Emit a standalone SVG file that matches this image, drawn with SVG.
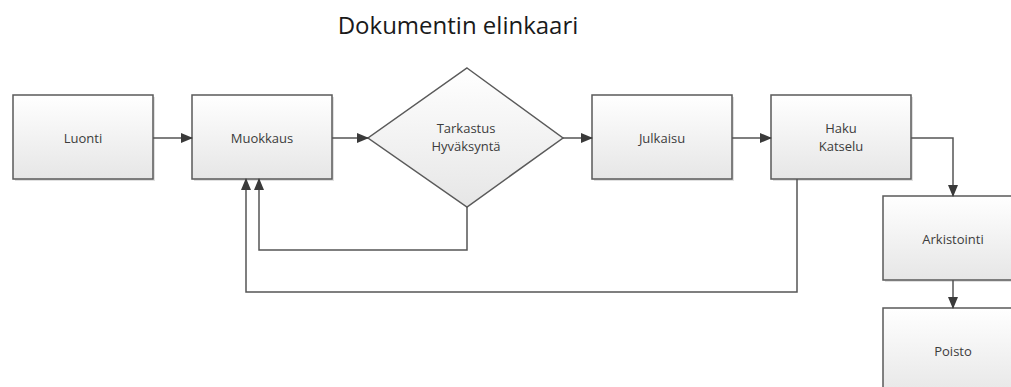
<svg xmlns="http://www.w3.org/2000/svg" width="1011" height="387" viewBox="0 0 1011 387">
<style>
.box{fill:url(#g);stroke:#5a5a5a;stroke-width:1.5}
.sh{fill:#e0e0e0}
.lbl{font-family:"Open Sans","Liberation Sans",sans-serif;font-size:13px;fill:#3c3c3c;text-anchor:middle;dominant-baseline:central}
.title{font-family:"Open Sans","Liberation Sans",sans-serif;font-size:24px;fill:#1a1a1a;text-anchor:middle}
.c{fill:none;stroke:#555;stroke-width:1.5}
</style>
<defs>
<linearGradient id="g" x1="0" y1="0" x2="0" y2="1">
<stop offset="0" stop-color="#ffffff"/>
<stop offset="1" stop-color="#e6e6e6"/>
</linearGradient>
<marker id="a" markerWidth="12" markerHeight="10" refX="11" refY="5" orient="auto" markerUnits="userSpaceOnUse">
<path d="M0,0 L12,5 L0,10 Z" fill="#3a3a3a"/>
</marker>
</defs>
<rect width="1011" height="387" fill="#fff"/>
<text class="title" x="458" y="34">Dokumentin elinkaari</text>
<g id="luonti">
<rect class="sh" x="15" y="97" width="140" height="84"/>
<rect class="box" x="13" y="95" width="140" height="84"/>
<text class="lbl" x="83" y="138">Luonti</text>
</g>
<g id="muokkaus">
<rect class="sh" x="194" y="97" width="140" height="84"/>
<rect class="box" x="192" y="95" width="140" height="84"/>
<text class="lbl" x="262" y="138">Muokkaus</text>
</g>
<g id="tarkastus">
<path class="box" d="M467,68 L563,138 L467,207 L368,138 Z"/>
<text class="lbl" x="466" y="128">Tarkastus</text>
<text class="lbl" x="466" y="146">Hyväksyntä</text>
</g>
<g id="julkaisu">
<rect class="sh" x="594" y="97" width="140" height="84"/>
<rect class="box" x="592" y="95" width="140" height="84"/>
<text class="lbl" x="662" y="138">Julkaisu</text>
</g>
<g id="haku">
<rect class="sh" x="773" y="97" width="140" height="84"/>
<rect class="box" x="771" y="95" width="140" height="84"/>
<text class="lbl" x="841" y="128">Haku</text>
<text class="lbl" x="841" y="146">Katselu</text>
</g>
<g id="arkistointi">
<rect class="sh" x="885" y="198" width="140" height="84"/>
<rect class="box" x="883" y="196" width="140" height="84"/>
<text class="lbl" x="953" y="239">Arkistointi</text>
</g>
<g id="poisto">
<rect class="sh" x="885" y="310" width="140" height="90"/>
<rect class="box" x="883" y="308" width="140" height="90"/>
<text class="lbl" x="953" y="351">Poisto</text>
</g>
<g id="connectors">
<path class="c" d="M153,138 L192,138" marker-end="url(#a)"/>
<path class="c" d="M332,138 L368,138" marker-end="url(#a)"/>
<path class="c" d="M563,138 L592,138" marker-end="url(#a)"/>
<path class="c" d="M732,138 L771,138" marker-end="url(#a)"/>
<path class="c" d="M911,138 L953,138 L953,196" marker-end="url(#a)"/>
<path class="c" d="M953,280 L953,308" marker-end="url(#a)"/>
<path class="c" d="M467,207 L467,250 L259,250 L259,179" marker-end="url(#a)"/>
<path class="c" d="M797,179 L797,292 L246,292 L246,179" marker-end="url(#a)"/>
</g>
</svg>
